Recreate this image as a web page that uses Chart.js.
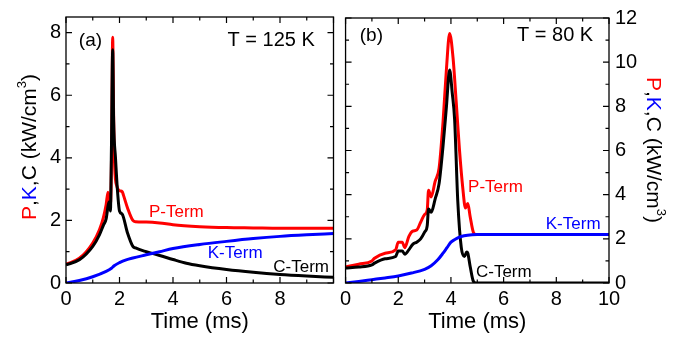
<!DOCTYPE html>
<html>
<head>
<meta charset="utf-8">
<script src="https://cdn.jsdelivr.net/npm/chart.js@4.4.1/dist/chart.umd.min.js"></script>
<style>
  html,body{margin:0;padding:0;background:#fff;}
  #wrap{position:relative;width:689px;height:341px;overflow:hidden;background:#fff;}
</style>
</head>
<body>
<div id="wrap">
  <div style="position:absolute;left:0;top:0;width:338px;height:341px;"><canvas id="ca"></canvas></div>
  <div style="position:absolute;left:336px;top:0;width:353px;height:341px;"><canvas id="cb"></canvas></div>
</div>
<script>
// ---------------- DATA ----------------
// Panel (a), T = 125 K
const timeA_P = [0,0.5,1.0,1.25,1.4,1.5,1.57,1.62,1.67,1.71,1.745,1.78,1.82,1.9,2.0,2.1,2.15,2.3,2.5,2.6,3,3.5,4,5,6,7,8,9,10];
const pTermA  = [0.6,0.79,1.28,1.7,2.1,2.5,2.9,2.45,2.6,4.6,7.85,5.4,3.7,3.1,2.95,2.92,2.8,2.4,2.0,1.96,1.95,1.92,1.86,1.8,1.77,1.76,1.75,1.75,1.75];
const timeA_C = [0,0.5,1.0,1.25,1.4,1.5,1.58,1.62,1.66,1.7,1.745,1.78,1.85,1.92,2.0,2.1,2.3,2.5,2.6,3,3.5,4,4.5,5,6,7,8,9,10];
const cTermA  = [0.58,0.74,1.17,1.54,1.85,2.05,2.5,2.6,2.3,4.4,7.45,5.2,4.0,3.0,2.3,2.2,1.6,1.17,1.12,1.0,0.88,0.75,0.63,0.55,0.43,0.34,0.27,0.22,0.18];
const timeA_K = [0,0.5,1,1.5,1.7,1.8,2,2.25,2.5,3,3.5,4,5,6,7,8,9,10];
const kTermA  = [0,0.08,0.2,0.37,0.47,0.55,0.65,0.74,0.8,0.9,1.0,1.1,1.23,1.33,1.42,1.49,1.54,1.58];

// Panel (b), T = 80 K
const timeB_P = [0,0.5,1.0,1.1,1.5,1.9,2.0,2.15,2.25,2.4,2.55,2.7,2.85,3.0,3.1,3.15,3.25,3.4,3.55,3.7,3.83,3.95,4.08,4.2,4.32,4.45,4.55,4.64,4.73,4.85,4.95,5.5,7,10];
const pTermB  = [0.73,0.85,1.0,1.12,1.35,1.5,1.85,1.85,1.6,2.1,2.35,2.4,2.75,3.1,3.3,4.2,3.9,4.6,5.2,7.3,9.7,11.3,10.2,8.2,6.1,4.3,3.4,3.6,3.0,2.3,2.2,2.2,2.2,2.2];
const timeB_C = [0,0.5,1.0,1.1,1.5,1.9,2.0,2.15,2.25,2.4,2.55,2.7,2.85,3.0,3.1,3.15,3.25,3.4,3.55,3.7,3.83,3.95,4.05,4.14,4.26,4.39,4.51,4.6,4.64,4.73,4.85,4.95,5.5,7,10];
const cTermB  = [0.68,0.72,0.82,0.9,1.1,1.2,1.45,1.45,1.3,1.5,1.75,1.85,2.0,2.3,2.6,3.35,3.2,3.8,4.5,6.2,8.0,9.65,8.6,7.4,3.7,1.63,1.2,1.4,1.35,0.75,0.08,0,0,0,0];
const timeB_K = [0,0.5,1,1.5,2,2.5,3,3.25,3.5,3.7,3.85,4.0,4.15,4.3,4.5,4.8,5,10];
const kTermB  = [0,0.07,0.15,0.23,0.32,0.45,0.62,0.78,1.05,1.35,1.6,1.85,1.97,2.07,2.14,2.19,2.2,2.2];

// Tick labels
const xTicksA = [0,2,4,6,8];
const xTicksB = [0,2,4,6,8,10];
const yTicksA = [0,2,4,6,8];
const yTicksB = [0,2,4,6,8,10,12];

const seriesNames = ['P-Term','K-Term','C-Term'];
const RED = '#ff0000', BLUE = '#0000ff', BLACK = '#000000';
const FONT = '"Liberation Sans", Arial, sans-serif';

// ---------------- HELPERS ----------------
function pts(xs, ys){ return xs.map((x,i)=>({x:x, y:ys[i]})); }

function ds(label, xs, ys, color){
  return {label, data: pts(xs,ys), borderColor: color, backgroundColor: color,
          borderWidth: 3, pointRadius: 0, cubicInterpolationMode: 'monotone', fill:false};
}

// frame + inward major/minor ticks on all 4 sides, labels, rotated title
const framePlugin = {
  id: 'frame',
  afterDatasetsDraw(chart, args, opts){
    const {ctx, chartArea: a, scales} = chart;
    const xs = scales.x, ys = scales.y;
    ctx.save();
    ctx.strokeStyle = '#000'; ctx.lineWidth = 1.3;
    ctx.strokeRect(a.left, a.top, a.right - a.left, a.bottom - a.top);
    ctx.lineWidth = 1.2;
    ctx.beginPath();
    for (let v = xs.min; v <= xs.max + 1e-9; v += 1){
      const L = (Math.round(v) % 2 === 0) ? 6 : 3.5;
      const p = xs.getPixelForValue(v);
      ctx.moveTo(p, a.bottom); ctx.lineTo(p, a.bottom - L);
      ctx.moveTo(p, a.top); ctx.lineTo(p, a.top + L);
    }
    for (let v = 0; v <= ys.max + 1e-9; v += 1){
      const L = (Math.round(v) % 2 === 0) ? 6 : 3.5;
      const p = ys.getPixelForValue(v);
      ctx.moveTo(a.left, p); ctx.lineTo(a.left + L, p);
      ctx.moveTo(a.right, p); ctx.lineTo(a.right - L, p);
    }
    ctx.stroke();
    (opts.labels || []).forEach(l=>{
      ctx.font = l.size + 'px ' + FONT;
      ctx.fillStyle = l.color;
      ctx.textAlign = l.align || 'left';
      ctx.textBaseline = 'middle';
      ctx.fillText(l.text, xs.getPixelForValue(l.x), ys.getPixelForValue(l.y));
    });
    if (opts.title){
      const t = opts.title;
      const size = 21, supSize = 13;
      const parts = [
        {s:'P', c:RED}, {s:',', c:BLACK}, {s:'K', c:BLUE}, {s:',C (kW/cm', c:BLACK},
        {s:'3', c:BLACK, sup:true}, {s:')', c:BLACK}
      ];
      let total = 0;
      parts.forEach(p=>{ ctx.font = (p.sup?supSize:size)+'px '+FONT; p.w = ctx.measureText(p.s).width; total += p.w; });
      ctx.translate(t.x, t.y);
      ctx.rotate(t.rot);
      ctx.textAlign = 'left'; ctx.textBaseline = 'alphabetic';
      let cx = -total/2;
      const base = 7.5;
      parts.forEach(p=>{
        ctx.font = (p.sup?supSize:size)+'px '+FONT;
        ctx.fillStyle = p.c;
        ctx.fillText(p.s, cx, p.sup ? base - 10 : base);
        cx += p.w;
      });
    }
    ctx.restore();
  }
};

function makeChart(id, cfg){
  const tickFont = {family: FONT, size: 20};
  return new Chart(document.getElementById(id), {
    type:'line',
    data:{ datasets: cfg.datasets },
    options:{
      responsive:true, maintainAspectRatio:false, animation:false,
      layout:{ padding: cfg.padding },
      plugins:{ legend:{display:false}, tooltip:{enabled:false},
                frame:{ labels: cfg.labels, title: cfg.title } },
      scales:{
        x:{ type:'linear', min:0, max:10,
            grid:{display:false, drawTicks:false}, border:{display:false},
            ticks:{font: tickFont, color:'#000', padding: 4, maxRotation:0, autoSkip:false},
            afterBuildTicks: s => { s.ticks = cfg.xTicks.map(v=>({value:v})); },
            afterFit: s => { s.height = 341 - 283; },
            title:{display:true, text:'Time (ms)', color:'#000', font:{family: FONT, size: 22}, padding:{top:0,bottom:6}} },
        y:{ type:'linear', position: cfg.yPos, min:0, max: cfg.yMax,
            grid:{display:false, drawTicks:false}, border:{display:false},
            ticks:{font: tickFont, color:'#000', padding: cfg.yPad, autoSkip:false},
            afterBuildTicks: s => { s.ticks = cfg.yTicks.map(v=>({value:v})); },
            afterFit: s => { s.width = cfg.yWidth; } }
      }
    },
    plugins:[framePlugin]
  });
}

Chart.defaults.font.family = FONT;

makeChart('ca', {
  datasets: [ ds(seriesNames[1], timeA_K, kTermA, BLUE), ds(seriesNames[2], timeA_C, cTermA, BLACK), ds(seriesNames[0], timeA_P, pTermA, RED) ],
  yPos:'left', yMax: 8.5, yTicks: yTicksA, xTicks: xTicksA, yWidth: 66, yPad: 5,
  padding:{left:0, right:4.5, top:15, bottom:0},
  labels:[
    {text:'(a)', x:0.48, y:7.75, color:BLACK, size:19},
    {text:'T = 125 K', x:9.3, y:7.75, color:BLACK, size:20, align:'right'},
    {text:'P-Term', x:3.1, y:2.25, color:RED, size:17},
    {text:'K-Term', x:5.3, y:0.95, color:BLUE, size:17},
    {text:'C-Term', x:7.75, y:0.5, color:BLACK, size:17}
  ],
  title:{x:28, y:147, rot:-Math.PI/2}
});

makeChart('cb', {
  datasets: [ ds(seriesNames[1], timeB_K, kTermB, BLUE), ds(seriesNames[2], timeB_C, cTermB, BLACK), ds(seriesNames[0], timeB_P, pTermB, RED) ],
  yPos:'right', yMax: 12, yTicks: yTicksB, xTicks: xTicksB, yWidth: 80, yPad: 6,
  padding:{left:4.5, right:0, top:15, bottom:0},
  labels:[
    {text:'(b)', x:0.54, y:11.2, color:BLACK, size:19},
    {text:'T = 80 K', x:9.4, y:11.2, color:BLACK, size:20, align:'right'},
    {text:'P-Term', x:4.65, y:4.35, color:RED, size:17},
    {text:'K-Term', x:7.6, y:2.65, color:BLUE, size:17},
    {text:'C-Term', x:4.95, y:0.5, color:BLACK, size:17}
  ],
  title:{x:318, y:150, rot:Math.PI/2}
});
</script>
</body>
</html>
